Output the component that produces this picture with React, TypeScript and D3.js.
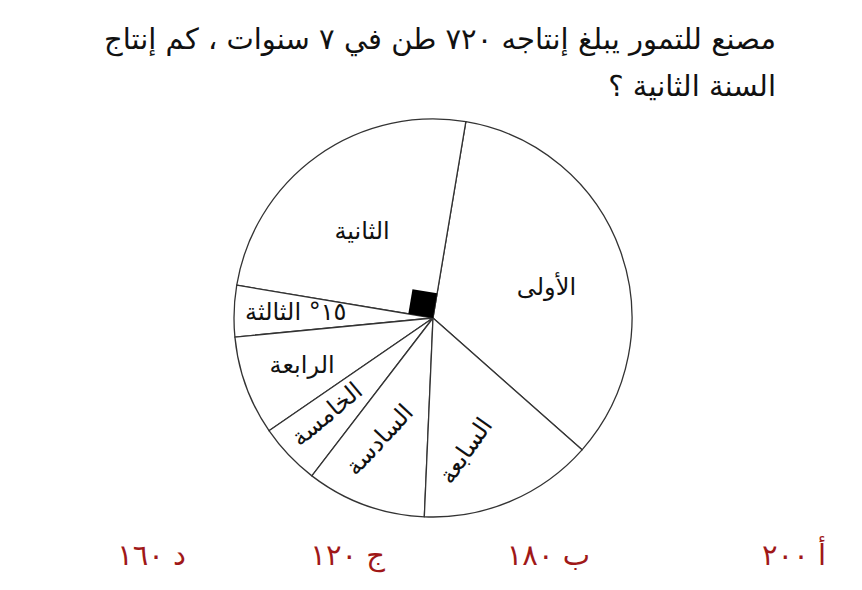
import React from "react";
import * as d3 from "d3";

const categories = ["الأولى", "الثانية", "الثالثة", "الرابعة", "الخامسة", "السادسة", "السابعة"];
const degrees = [122, 90, 15, 29, 18, 35, 51];
const sliceLabels = ["الأولى", "الثانية", "١٥° الثالثة", "الرابعة", "الخامسة", "السادسة", "السابعة"];
const titleLines = ["مصنع للتمور يبلغ إنتاجه ٧٢٠ طن في ٧ سنوات ، كم إنتاج", "السنة الثانية ؟"];
const answers = ["أ ٢٠٠", "ب ١٨٠", "ج ١٢٠", "د ١٦٠"];

const W = 862;
const H = 590;
const cx = 433;
const cy = 318;
const R = 199;
const startDeg = 131.5;
const FONT = "'DejaVu Sans', sans-serif";

// label styling: radius fraction of R, angular nudge (deg), rotation (deg)
const labelStyle = [
  { rf: 0.59, da: 4.5, rot: 0 },
  { rf: 0.56, da: -4, rot: 0 },
  { rf: 0.69, da: 0, rot: 0 },
  { rf: 0.7, da: 0, rot: 0 },
  { rf: 0.72, da: 1, rot: -40 },
  { rf: 0.67, da: 3.5, rot: -47 },
  { rf: 0.69, da: 9, rot: -55 },
];
// right edges of the answer choices (layout)
const answerRight = [826, 590, 385, 186];

export default function App() {
  const toRad = (d: number) => (d * Math.PI) / 180;
  const data = categories.map((c, i) => ({ c, v: degrees[i], i }));
  const pie = d3
    .pie<any>()
    .value((d) => d.v)
    .sort(null)
    .startAngle(toRad(startDeg))
    .endAngle(toRad(startDeg - 360));
  const arcs = pie(data);
  const arcGen = d3.arc<any>().innerRadius(0).outerRadius(R);

  const second = arcs[1];
  const a1 = second.startAngle;
  const a2 = second.endAngle;
  const s = 25;
  const p = (a: number, r: number) => [r * Math.sin(a), -r * Math.cos(a)];
  const u = p(a1, s);
  const v = p(a2, s);
  const sq = `M0,0 L${u[0]},${u[1]} L${u[0] + v[0]},${u[1] + v[1]} L${v[0]},${v[1]} Z`;

  return (
    <svg width={W} height={H} style={{ position: "absolute", left: 0, top: 0, background: "#fff" }}>
      <g fontFamily={FONT}>
        {titleLines.map((t, i) => (
          <text key={i} x={776} y={49 + i * 47} direction="rtl" textAnchor="start" fontSize={29} fill="#111">
            {t}
          </text>
        ))}
      </g>
      <g transform={`translate(${cx},${cy})`}>
        {arcs.map((a, i) => (
          <path key={i} d={arcGen(a) as string} fill="#fff" stroke="#333" strokeWidth={1.3} strokeLinejoin="round" />
        ))}
        <path d={sq} fill="#000" />
        {arcs.map((a, i) => {
          const mid = (a.startAngle + a.endAngle) / 2 + toRad(labelStyle[i].da);
          const [x, y] = p(mid, labelStyle[i].rf * R);
          return (
            <text
              key={i}
              transform={`translate(${x},${y}) rotate(${labelStyle[i].rot})`}
              textAnchor="middle"
              dy="0.3em"
              direction="rtl"
              fontFamily={FONT}
              fontSize={24}
              fill="#111"
            >
              {sliceLabels[i]}
            </text>
          );
        })}
      </g>
      <g fontFamily={FONT}>
        {answers.map((t, i) => (
          <text key={i} x={answerRight[i]} y={565} direction="rtl" textAnchor="start" fontSize={29} fill="#a01818">
            {t}
          </text>
        ))}
      </g>
    </svg>
  );
}
